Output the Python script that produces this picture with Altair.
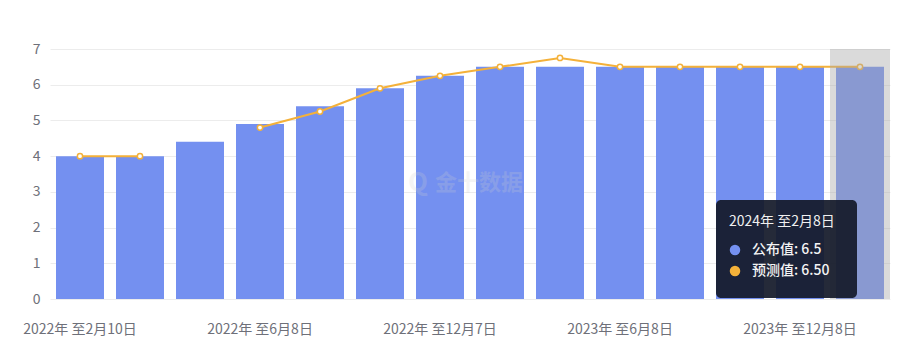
import altair as alt
import pandas as pd

categories = [
    "2022年 至2月10日", "2022年 至4月8日", "2022年 至5月4日", "2022年 至6月8日",
    "2022年 至8月5日", "2022年 至9月30日", "2022年 至12月7日", "2023年 至2月8日",
    "2023年 至4月6日", "2023年 至6月8日", "2023年 至8月10日", "2023年 至10月6日",
    "2023年 至12月8日", "2024年 至2月8日",
]
actual = [4.0, 4.0, 4.4, 4.9, 5.4, 5.9, 6.25, 6.5, 6.5, 6.5, 6.5, 6.5, 6.5, 6.5]
forecast = [4.0, 4.0, None, 4.8, 5.25, 5.9, 6.25, 6.5, 6.75, 6.5, 6.5, 6.5, 6.5, 6.5]
shown_labels = [categories[i] for i in (0, 3, 6, 9, 12)]
y_ticks = [0, 1, 2, 3, 4, 5, 6, 7]

FONT = "Noto Sans CJK SC"
BAR = "#7490f0"
LINE = "#f4b13a"

df = pd.DataFrame({"cat": categories, "actual": actual, "forecast": forecast})

x_scale = alt.Scale(paddingInner=0.2, paddingOuter=0.1)
y_scale = alt.Scale(domain=[0, 7], nice=False)
x_axis = alt.Axis(values=shown_labels, labelAngle=0, ticks=False, domain=False,
                  labelPadding=23, labelFontSize=14, labelColor="#6e7079",
                  labelFont=FONT, grid=False, title=None)
y_axis = alt.Axis(values=y_ticks, ticks=False, domain=False, grid=True,
                  gridColor="#ececec", labelFontSize=14, labelColor="#6e7079",
                  labelFont=FONT, labelPadding=10, title=None)
x_enc = alt.X("cat:N", sort=categories, scale=x_scale, axis=x_axis)

bars = alt.Chart(df).mark_bar(color=BAR).encode(
    x=x_enc,
    y=alt.Y("actual:Q", scale=y_scale, axis=y_axis),
)

line = alt.Chart(df).mark_line(color=LINE, strokeWidth=2,
                               invalid="break-paths-show-domains").encode(
    x=x_enc,
    y=alt.Y("forecast:Q", scale=y_scale, axis=y_axis),
)
points = alt.Chart(df).transform_filter("datum.forecast != null").mark_point(
    shape="circle", filled=True, fill="white", stroke=LINE, strokeWidth=1.5,
    size=28, opacity=1).encode(
    x=x_enc,
    y=alt.Y("forecast:Q", scale=y_scale, axis=y_axis),
)

hover_df = pd.DataFrame({"cat": [categories[-1]], "top": [7], "bottom": [0]})
hover = alt.Chart(hover_df).mark_bar(color="#a8a8a8", opacity=0.42,
                                     width=alt.RelativeBandSize(1.25)).encode(
    x=x_enc,
    y=alt.Y("top:Q", scale=y_scale, axis=y_axis),
    y2="bottom:Q",
)

# watermark
wm = alt.Chart(pd.DataFrame({"t": ["金十数据"]})).mark_text(
    font=FONT, fontSize=22, fontWeight="bold", color="#d0d0d0", opacity=0.22,
    align="left", baseline="middle").encode(
    x=alt.value(385), y=alt.value(134), text="t:N")
wm_logo = alt.Chart(pd.DataFrame({"t": ["Q"]})).mark_text(
    font=FONT, fontSize=26, fontWeight="bold", color="#d0d0d0", opacity=0.22,
    align="center", baseline="middle").encode(
    x=alt.value(368), y=alt.value(134), text="t:N")

# tooltip
tip_box = alt.Chart(hover_df).mark_rect(color="#141a2a", opacity=0.93,
                                        cornerRadius=5).encode(
    x=alt.value(666), x2=alt.value(807), y=alt.value(151), y2=alt.value(249))
tip_title = alt.Chart(pd.DataFrame({"t": [categories[-1]]})).mark_text(
    font=FONT, fontSize=14, color="#f0f0f0", align="left", baseline="middle").encode(
    x=alt.value(679), y=alt.value(173), text="t:N")

tip_layers = []
for label, color, ypix in [
    (f"公布值: {actual[-1]}", BAR, 201),
    (f"预测值: {forecast[-1]:.2f}", LINE, 222),
]:
    row = pd.DataFrame({"t": [label]})
    tip_layers.append(alt.Chart(row).mark_point(
        shape="circle", filled=True, size=110, opacity=1, color=color).encode(
        x=alt.value(685), y=alt.value(ypix)))
    tip_layers.append(alt.Chart(row).mark_text(
        font=FONT, fontSize=14, fontWeight=500, color="#f4f4f4",
        align="left", baseline="middle").encode(
        x=alt.value(702), y=alt.value(ypix), text="t:N"))

chart = alt.layer(
    bars, wm_logo, wm, line, points, hover, tip_box, tip_title, *tip_layers
).properties(
    width=840, height=250,
    autosize=alt.AutoSizeParams(type="none"),
    padding={"left": 42, "top": 41, "right": 10, "bottom": 50},
).configure(font=FONT, view=alt.ViewConfig(stroke=None))

chart.save("out.html", embed_options={"renderer": "svg", "actions": False})
